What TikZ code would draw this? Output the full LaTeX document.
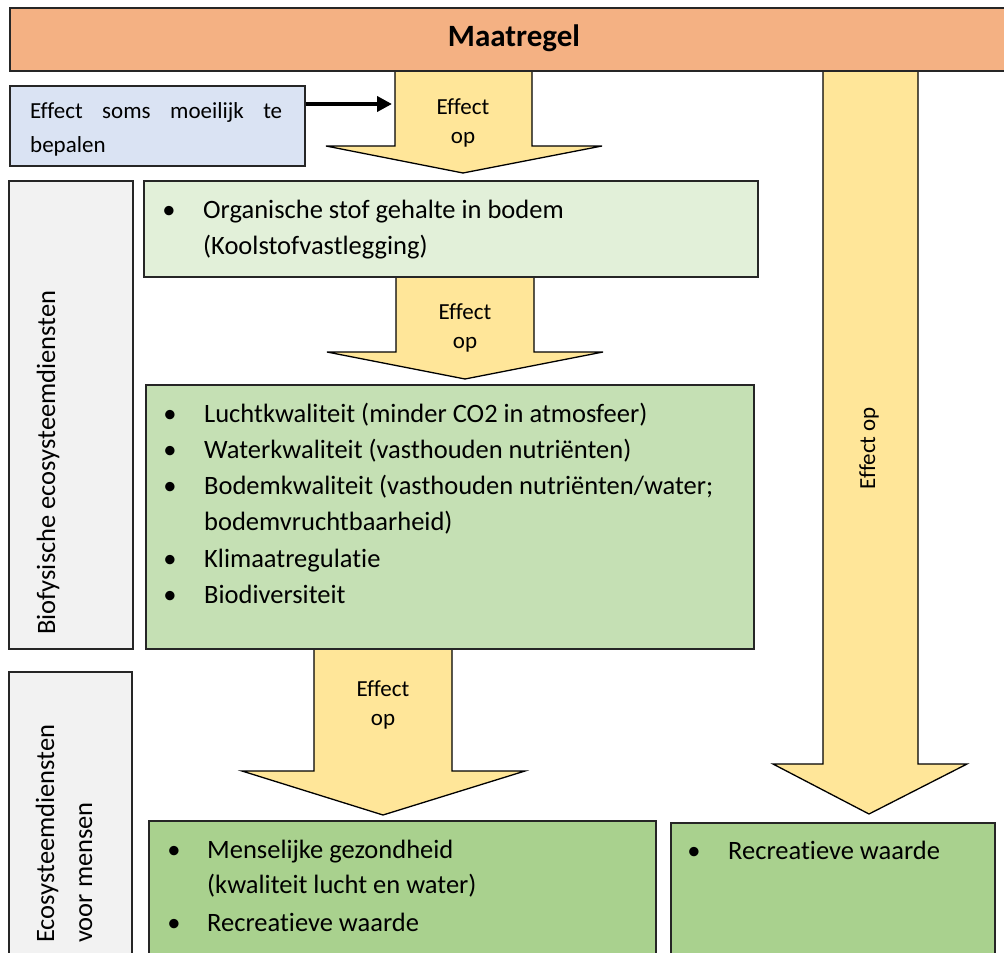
\documentclass[tikz,border=0pt]{standalone}
\usepackage{fontspec}
\setmainfont{Carlito}[Ligatures=NoCommon]
\usetikzlibrary{arrows.meta}
\definecolor{maatorange}{HTML}{F4B183}
\definecolor{effblue}{HTML}{DAE3F3}
\definecolor{arryellow}{HTML}{FFE699}
\definecolor{sidegray}{HTML}{F2F2F2}
\definecolor{greenA}{HTML}{E2F0D9}
\definecolor{greenB}{HTML}{C5E0B4}
\definecolor{greenC}{HTML}{A9D18E}
\tikzset{
  panel/.style={draw=black!85, line width=2pt, inner sep=0pt, anchor=north west},
  blockarrow/.style={draw=black, line width=1.3pt, fill=arryellow, line join=miter},
  bodytext/.style={inner sep=0pt, anchor=base west, font=\fontsize{26.5}{30}\selectfont},
  bul/.style={inner sep=0pt, anchor=base, font=\fontsize{26.5}{30}\selectfont},
  arrtext/.style={inner sep=0pt, anchor=base, font=\fontsize{23}{28}\selectfont},
  sidetext/.style={inner sep=0pt, anchor=base west, rotate=90, font=\fontsize{26.5}{30}\selectfont},
}
\begin{document}
\begin{tikzpicture}[x=1pt,y=-1pt]
\useasboundingbox (0,0) rectangle (1004,953);
% block arrows (behind the boxes)
\draw[blockarrow] (395,70) -- (395,146) -- (326,146) -- (463,173) -- (602,146) -- (532,146) -- (532,70) -- cycle;
\draw[blockarrow] (396,276) -- (396,352) -- (327,352) -- (465,379) -- (603,352) -- (534,352) -- (534,276) -- cycle;
\draw[blockarrow] (314,648) -- (314,771) -- (242,771) -- (383,815) -- (525,771) -- (452,771) -- (452,648) -- cycle;
\draw[blockarrow] (823,70) -- (823,764) -- (773,764) -- (869,814) -- (967,764) -- (918,764) -- (918,70) -- cycle;
% boxes
\node[panel, fill=maatorange, minimum width=1010pt, minimum height=63pt] (maat) at (9,7) {};
\node[inner sep=0pt, font=\fontsize{31}{36}\selectfont\bfseries] (maattxt) at (514,38) {Maatregel};
\node[panel, fill=effblue, minimum width=295pt, minimum height=80pt] (blue) at (9,85) {};
\node[panel, fill=sidegray, minimum width=124pt, minimum height=468pt] (side1) at (8,180) {};
\node[panel, fill=sidegray, minimum width=123pt, minimum height=300pt] (side2) at (8,671) {};
\node[panel, fill=greenA, minimum width=614pt, minimum height=96pt] (g1) at (143,180) {};
\node[panel, fill=greenB, minimum width=608pt, minimum height=264pt] (g2) at (145,384) {};
\node[panel, fill=greenC, minimum width=507pt, minimum height=150pt] (g3) at (148,820) {};
\node[panel, fill=greenC, minimum width=324pt, minimum height=150pt] (g4) at (670,822) {};
% blue box text and connector
\node[inner sep=0pt, anchor=base west, font=\fontsize{23}{28}\selectfont] (bl1) at (30,118) {\hbox to 252pt{Effect\hfil soms\hfil moeilijk\hfil te}};
\node[inner sep=0pt, anchor=base west, font=\fontsize{23}{28}\selectfont] (bl2) at (30,152) {bepalen};
\coordinate (a1w) at (392,104);
\draw[line width=4.5pt, -{Triangle[length=15pt,width=15pt]}] (blue.east |- a1w) -- (a1w);
% arrow texts
\node[arrtext] (e1a) at (463,114) {Effect};
\node[arrtext] (e1b) at (463,143) {op};
\node[arrtext] (e2a) at (465,319) {Effect};
\node[arrtext] (e2b) at (465,348) {op};
\node[arrtext] (e3a) at (383,696) {Effect};
\node[arrtext] (e3b) at (383,725) {op};
\node[inner sep=0pt, rotate=90, font=\fontsize{23}{28}\selectfont] (e4) at (869,448) {Effect op};
% side labels
\node[sidetext] (s1) at (55,635) {Biofysische ecosysteemdiensten};
\node[sidetext] (s2a) at (54,943) {Ecosysteemdiensten};
\node[sidetext] (s2b) at (92,943) {voor mensen};
% box 1
\node[bul] (b11) at (169,218) {\textbullet};
\node[bodytext] (t11) at (203,218) {Organische stof gehalte in bodem};
\node[bodytext] (t12) at (203,254) {(Koolstofvastlegging)};
% box 2
\node[bul] (b21) at (170,422) {\textbullet};
\node[bodytext] (t21) at (204,422) {Luchtkwaliteit (minder CO2 in atmosfeer)};
\node[bul] (b22) at (170,458) {\textbullet};
\node[bodytext] (t22) at (204,458) {Waterkwaliteit (vasthouden nutriënten)};
\node[bul] (b23) at (170,494) {\textbullet};
\node[bodytext] (t23) at (204,494) {Bodemkwaliteit (vasthouden nutriënten/water;};
\node[bodytext] (t24) at (204,530) {bodemvruchtbaarheid)};
\node[bul] (b25) at (170,567) {\textbullet};
\node[bodytext] (t25) at (204,567) {Klimaatregulatie};
\node[bul] (b26) at (170,603) {\textbullet};
\node[bodytext] (t26) at (204,603) {Biodiversiteit};
% box 3
\node[bul] (b31) at (174,858) {\textbullet};
\node[bodytext] (t31) at (207,858) {Menselijke gezondheid};
\node[bodytext] (t32) at (207,893) {(kwaliteit lucht en water)};
\node[bul] (b33) at (174,931) {\textbullet};
\node[bodytext] (t33) at (207,931) {Recreatieve waarde};
% box 4
\node[bul] (b41) at (694,859) {\textbullet};
\node[bodytext] (t41) at (728,859) {Recreatieve waarde};
\end{tikzpicture}
\end{document}
